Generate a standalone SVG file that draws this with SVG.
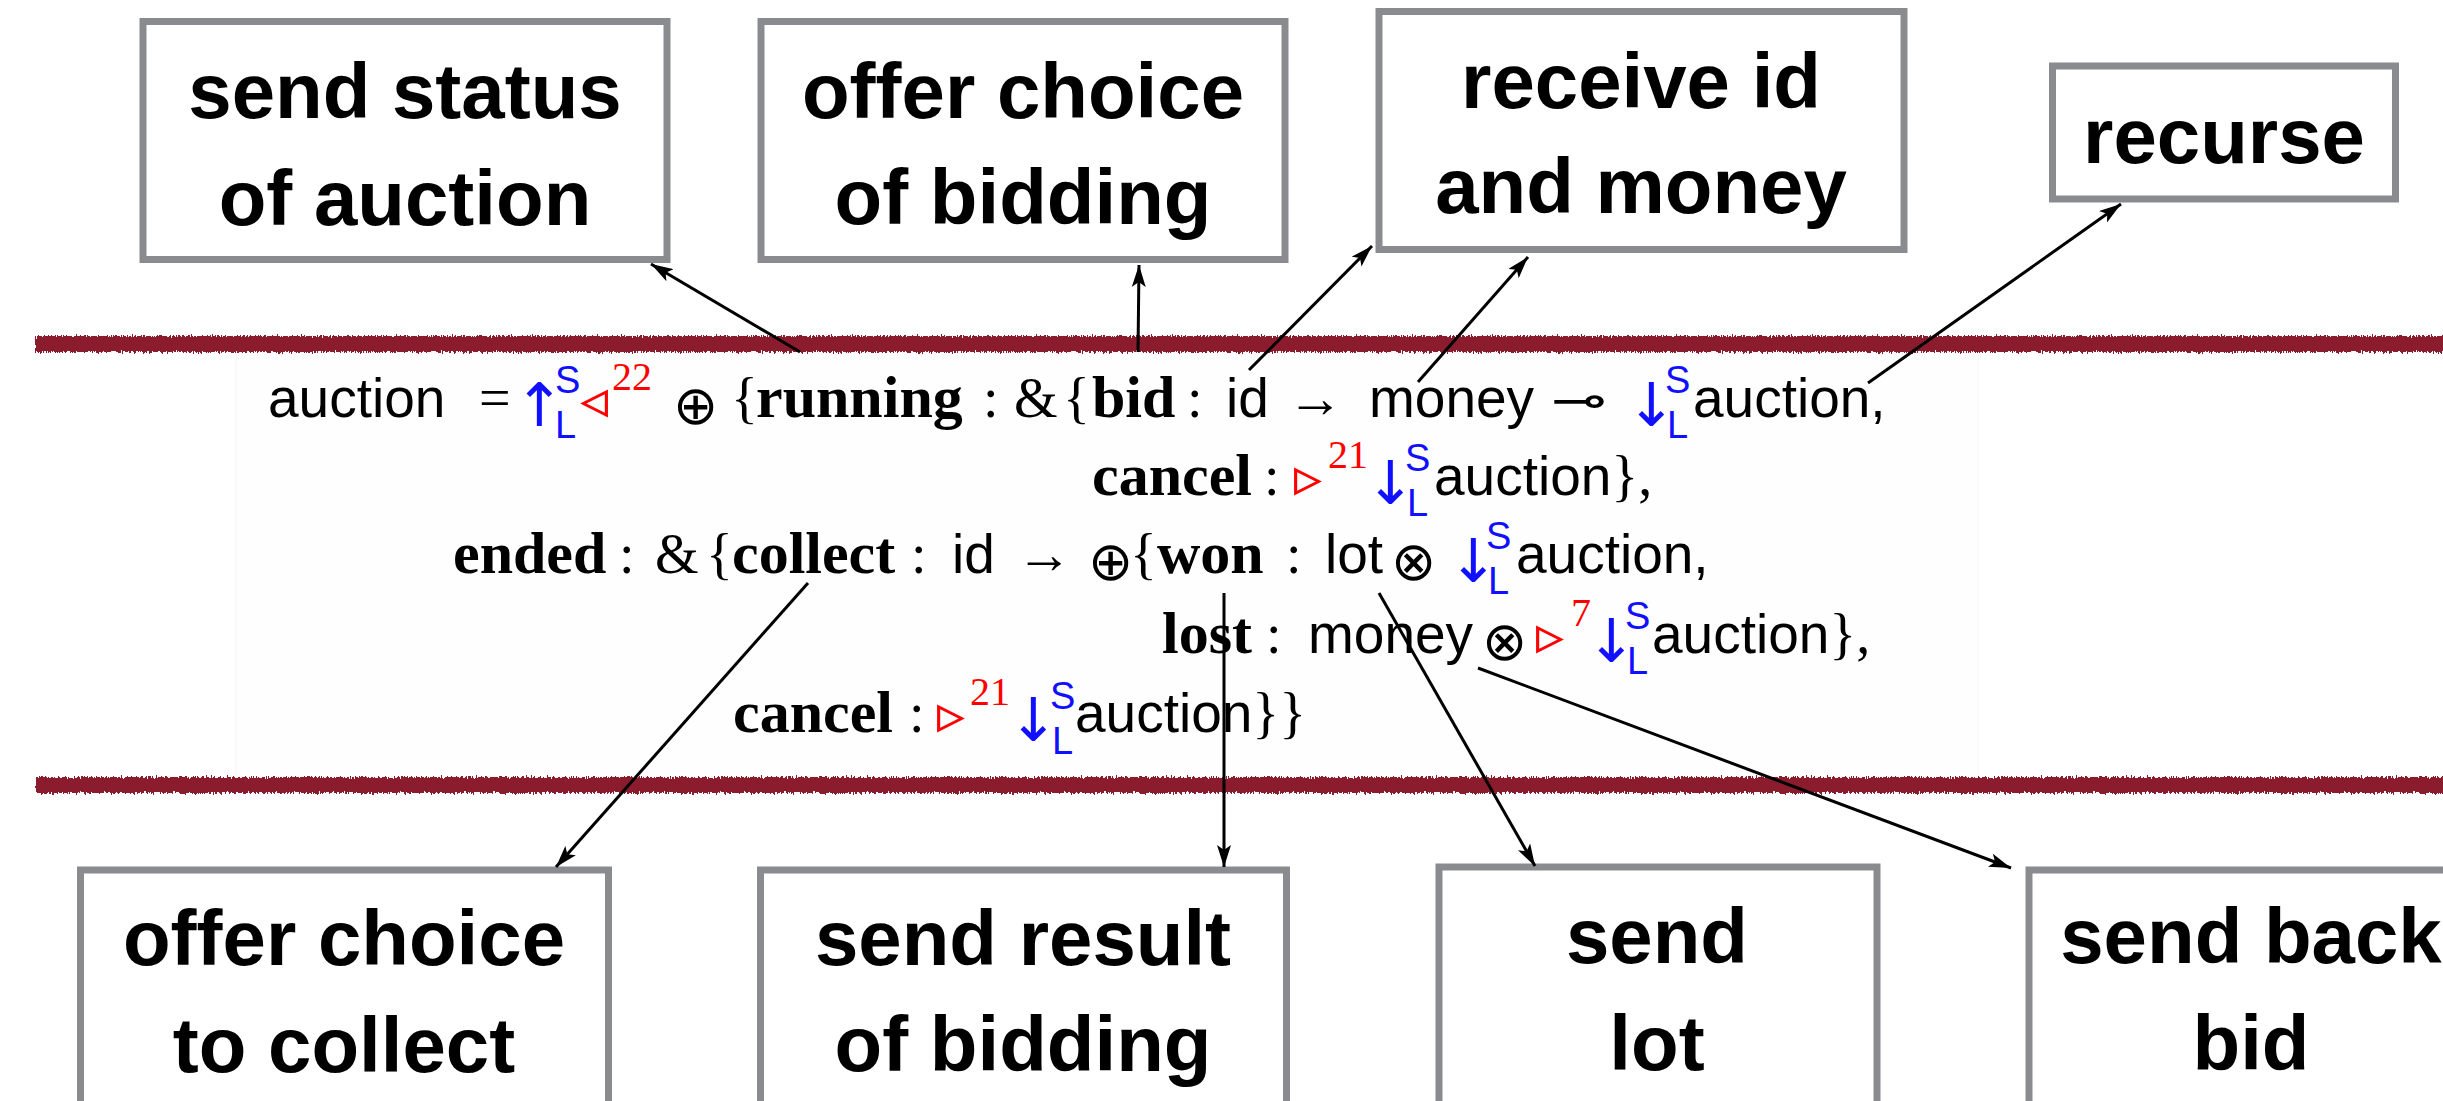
<svg xmlns="http://www.w3.org/2000/svg" width="2443" height="1101" viewBox="0 0 2443 1101">
<style>
.box{fill:#fff;stroke:#898b8e;stroke-width:7}
.lbl{font-family:"Liberation Sans",Arial,sans-serif;font-weight:bold;font-size:78px;text-anchor:middle;fill:#000}
.m{font-family:"Liberation Serif","DejaVu Serif",serif;font-size:56px;fill:#000}
.b{font-family:"Liberation Serif",serif;font-weight:bold;font-size:60px;fill:#000}
.s{font-family:"Liberation Sans",sans-serif;font-size:55px;fill:#000}
.sym{font-family:"DejaVu Sans",sans-serif;font-size:54px;fill:#000}
.lolli{font-family:"DejaVu Sans",sans-serif;font-size:46px;fill:#000}
.sup{font-family:"Liberation Sans",sans-serif;font-size:38px;fill:#1010ff}
.ar{font-family:"DejaVu Sans",sans-serif;font-size:60px;fill:#1010ff}
.red{font-family:"Liberation Serif",serif;font-size:40px;fill:#ff0000}
.tri{font-family:"DejaVu Sans",sans-serif;font-size:56px;fill:#ff0000}
.conn{stroke:#000;stroke-width:3;fill:none;marker-end:url(#ah)}
.band{fill:#8b1a2f}
</style>
<defs>
<marker id="ah" viewBox="0 0 22 14" refX="22" refY="7" markerWidth="22" markerHeight="14" markerUnits="userSpaceOnUse" orient="auto">
<path d="M0,0 L22,7 L0,14 L5,7 Z" fill="#000"/>
</marker>
<filter id="rough" x="-1%" y="-80%" width="102%" height="260%">
<feTurbulence type="fractalNoise" baseFrequency="0.8 0.08" numOctaves="2" seed="4" result="n"/>
<feDisplacementMap in="SourceGraphic" in2="n" scale="7" xChannelSelector="R" yChannelSelector="G"/>
</filter>
</defs>
<rect x="0" y="0" width="2443" height="1101" fill="#fff"/>
<rect x="236" y="353" width="1742" height="424" fill="#fefefe" stroke="#f6f6f6" stroke-width="1"/>
<g id="bands">
<rect class="band" x="35" y="336" width="2420" height="16" filter="url(#rough)"/>
<rect class="band" x="36" y="777" width="2420" height="16" filter="url(#rough)"/>
</g>
<g id="formula">
<text class="s" x="268" y="417">auction</text>
<text class="m" x="479" y="417">=</text>
<text class="ar" x="514" y="426">↑</text>
<text class="sup" x="555" y="393">S</text>
<text class="sup" x="555" y="438">L</text>
<text class="tri" x="580" y="418">◃</text>
<text class="red" x="612" y="390">22</text>
<text class="sym" x="673" y="424">⊕</text>
<text class="m" x="731" y="417">{</text>
<text class="b" x="756" y="417">running</text>
<text class="m" x="983" y="417">:</text>
<text class="m" x="1014" y="417">&amp;</text>
<text class="m" x="1063" y="417">{</text>
<text class="b" x="1092" y="417">bid</text>
<text class="m" x="1187" y="417">:</text>
<text class="s" x="1226" y="417">id</text>
<text class="m" x="1287" y="417">→</text>
<text class="s" x="1369" y="417">money</text>
<text class="lolli" transform="translate(1551,416) scale(1.45,1)">⊸</text>
<text class="ar" x="1626" y="426">↓</text>
<text class="sup" x="1665" y="393">S</text>
<text class="sup" x="1667" y="438">L</text>
<text class="s" x="1693" y="417">auction,</text>

<text class="b" x="1092" y="495">cancel</text>
<text class="m" x="1264" y="495">:</text>
<text class="tri" x="1294" y="496">▹</text>
<text class="red" x="1328" y="468">21</text>
<text class="ar" x="1365" y="504">↓</text>
<text class="sup" x="1405" y="471">S</text>
<text class="sup" x="1407" y="516">L</text>
<text x="1434" y="495"><tspan class="s">auction</tspan><tspan class="m">},</tspan></text>

<text class="b" x="453" y="573">ended</text>
<text class="m" x="619" y="573">:</text>
<text class="m" x="655" y="573">&amp;</text>
<text class="m" x="706" y="573">{</text>
<text class="b" x="732" y="573">collect</text>
<text class="m" x="911" y="573">:</text>
<text class="s" x="952" y="573">id</text>
<text class="m" x="1016" y="573">→</text>
<text class="sym" x="1088" y="580">⊕</text>
<text class="m" x="1130" y="573">{</text>
<text class="b" x="1157" y="573">won</text>
<text class="m" x="1286" y="573">:</text>
<text class="s" x="1325" y="573">lot</text>
<text class="sym" x="1391" y="580">⊗</text>
<text class="ar" x="1448" y="582">↓</text>
<text class="sup" x="1486" y="549">S</text>
<text class="sup" x="1488" y="594">L</text>
<text class="s" x="1516" y="573">auction,</text>

<text class="b" x="1162" y="653">lost</text>
<text class="m" x="1266" y="653">:</text>
<text class="s" x="1308" y="653">money</text>
<text class="sym" x="1482" y="660">⊗</text>
<text class="tri" x="1536" y="654">▹</text>
<text class="red" x="1571" y="626">7</text>
<text class="ar" x="1586" y="662">↓</text>
<text class="sup" x="1625" y="629">S</text>
<text class="sup" x="1627" y="674">L</text>
<text x="1652" y="653"><tspan class="s">auction</tspan><tspan class="m">},</tspan></text>

<text class="b" x="733" y="732">cancel</text>
<text class="m" x="909" y="732">:</text>
<text class="tri" x="937" y="733">▹</text>
<text class="red" x="970" y="705">21</text>
<text class="ar" x="1008" y="741">↓</text>
<text class="sup" x="1050" y="709">S</text>
<text class="sup" x="1052" y="754">L</text>
<text x="1075" y="732"><tspan class="s">auction</tspan><tspan class="m">}}</tspan></text>
</g>
<g id="n-send-status">
<rect class="box" x="143" y="21.5" width="524" height="238"/>
<text class="lbl" x="405" y="118">send status</text>
<text class="lbl" x="405" y="225">of auction</text>
</g>
<g id="n-offer-bidding">
<rect class="box" x="761" y="21.5" width="524" height="238"/>
<text class="lbl" x="1023" y="118">offer choice</text>
<text class="lbl" x="1023" y="224">of bidding</text>
</g>
<g id="n-receive">
<rect class="box" x="1379" y="11.5" width="525" height="238"/>
<text class="lbl" x="1641" y="108">receive id</text>
<text class="lbl" x="1641" y="213">and money</text>
</g>
<g id="n-recurse">
<rect class="box" x="2052.5" y="66" width="343" height="133"/>
<text class="lbl" x="2224" y="163">recurse</text>
</g>
<g id="n-offer-collect">
<rect class="box" x="80.5" y="870" width="528" height="300"/>
<text class="lbl" x="344" y="965">offer choice</text>
<text class="lbl" x="344" y="1072">to collect</text>
</g>
<g id="n-send-result">
<rect class="box" x="760.5" y="870" width="526" height="300"/>
<text class="lbl" x="1023" y="965">send result</text>
<text class="lbl" x="1023" y="1071">of bidding</text>
</g>
<g id="n-send-lot">
<rect class="box" x="1439" y="867" width="438" height="300"/>
<text class="lbl" x="1657" y="963">send</text>
<text class="lbl" x="1657" y="1070">lot</text>
</g>
<g id="n-send-back">
<rect class="box" x="2029" y="870" width="450" height="300"/>
<text class="lbl" x="2251" y="963">send back</text>
<text class="lbl" x="2251" y="1070">bid</text>
</g>
<g id="connectors">
<line class="conn" x1="800" y1="352" x2="651" y2="264"/>
<line class="conn" x1="1138" y1="352" x2="1139" y2="265"/>
<line class="conn" x1="1249" y1="370" x2="1372" y2="246"/>
<line class="conn" x1="1418" y1="382" x2="1528" y2="257"/>
<line class="conn" x1="1868" y1="383" x2="2121" y2="204"/>
<line class="conn" x1="808" y1="583" x2="556" y2="867"/>
<line class="conn" x1="1224" y1="593" x2="1224" y2="867"/>
<line class="conn" x1="1379" y1="593" x2="1535" y2="866"/>
<line class="conn" x1="1478" y1="668" x2="2011" y2="868"/>
</g>
</svg>
